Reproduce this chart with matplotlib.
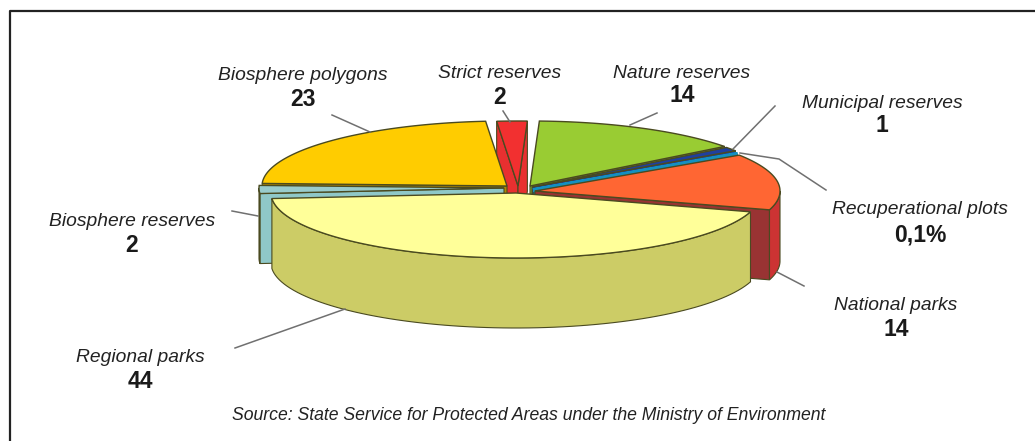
import numpy as np
import matplotlib
matplotlib.use('Agg')
import matplotlib.pyplot as plt
from matplotlib.patches import Polygon

plt.rcParams['font.family'] = ['Liberation Sans', 'DejaVu Sans']

names = ['Strict reserves', 'Nature reserves', 'Municipal reserves', 'Recuperational plots',
         'National parks', 'Regional parks', 'Biosphere reserves', 'Biosphere polygons']
values = [2, 14, 1, 0.1, 14, 44, 2, 23]
value_labels = ['2', '14', '1', '0,1%', '14', '44', '2', '23']

top_colors = ['#f23030', '#99cc33', '#1f3fa0', '#1490c0', '#ff6633', '#ffff99', '#99cccc', '#ffcc00']
side_colors = ['#e83030', '#7da828', '#182f80', '#107090', '#cc3333', '#cccc66', '#8fc8c8', '#cc9900']
cut_colors = ['#e83030', '#86b42c', '#1f3fa0', '#107090', '#993333', '#b0b050', '#8fc8c8', '#b08800']

# where each slice's point sits, pixels of the picture
apex_x = [518, 530, 532, 533, 535, 516, 504, 507]
apex_y = [186, 186, 187, 190, 191, 193, 188, 186]

label_x = [500, 682, 882, 920, 896, 140, 132, 303]
label_y = [74, 73, 104, 210, 306, 357, 222, 76]
number_y = [98, 96, 126, 235, 330, 382, 246, 100]

leaders = [
    [(503, 111), (510, 122)],
    [(657, 113), (630, 125)],
    [(775, 106), (733, 149)],
    [(740, 153), (779, 159), (826, 190)],
    [(777, 272), (804, 286)],
    [(235, 348), (345, 309)],
    [(232, 211), (258, 216)],
    [(332, 115), (370, 132)],
]

RX, RY, DEPTH = 245, 65, 70
START = -5.0
EDGE = '#4a4a20'

fig = plt.figure(figsize=(10.35, 4.41), dpi=100)
ax = fig.add_axes([0, 0, 1, 1])
ax.set_xlim(0, 1035)
ax.set_ylim(441, 0)
ax.axis('off')


def rim(x0, y0, t):
    t = np.radians(t)
    return x0 + RX * np.sin(t), y0 - RY * np.cos(t)


spans = np.array(values) / sum(values) * 360
starts = START + np.concatenate([[0], np.cumsum(spans)[:-1]])
mids = starts + spans / 2

# back slices first, the front ones paint over them
for i in sorted(range(len(values)), key=lambda k: -np.cos(np.radians(mids[k]))):
    x0, y0 = apex_x[i], apex_y[i]
    t1, t2 = starts[i], starts[i] + spans[i]
    for t, show in ((t1, np.sin(np.radians(t1)) < 0), (t2, np.sin(np.radians(t2)) > 0)):
        if show:
            xe, ye = rim(x0, y0, t)
            ax.add_patch(Polygon([(x0, y0), (xe, ye), (xe, ye + DEPTH), (x0, y0 + DEPTH)],
                                 fc=cut_colors[i], ec=EDGE, lw=0.8))
    # outer wall only shows on the near half
    for lo, hi in ((90, 270), (450, 630), (-270, -90)):
        a, b = max(t1, lo), min(t2, hi)
        if b > a:
            tt = np.linspace(a, b, 80)
            xs, ys = rim(x0, y0, tt)
            pts = list(zip(xs, ys)) + list(zip(xs[::-1], ys[::-1] + DEPTH))
            ax.add_patch(Polygon(pts, fc=side_colors[i], ec=EDGE, lw=0.8))
    tt = np.linspace(t1, t2, 120)
    xs, ys = rim(x0, y0, tt)
    lw = 2.5 if values[i] < 0.5 else 1.0
    ec = top_colors[i] if values[i] < 0.5 else EDGE
    ax.add_patch(Polygon([(x0, y0)] + list(zip(xs, ys)), fc=top_colors[i], ec=ec, lw=lw))

for pts in leaders:
    ax.plot([p[0] for p in pts], [p[1] for p in pts], color='#707070', lw=1.1, zorder=5)

for i, name in enumerate(names):
    ax.text(label_x[i], label_y[i], name, style='italic', fontsize=13.9, color='#222222',
            ha='center', va='center')
    ax.text(label_x[i], number_y[i], value_labels[i], fontweight='bold', fontsize=16.5,
            color='#1a1a1a', ha='center', va='center')

ax.text(529, 415, 'Source: State Service for Protected Areas under the Ministry of Environment',
        style='italic', fontsize=12.7, color='#222222', ha='center', va='center')

# picture frame, only top and left survive in the scan
ax.plot([10, 10, 1035], [441, 11, 11], color='#222222', lw=1.6)

fig.savefig('out.png', dpi=100)
